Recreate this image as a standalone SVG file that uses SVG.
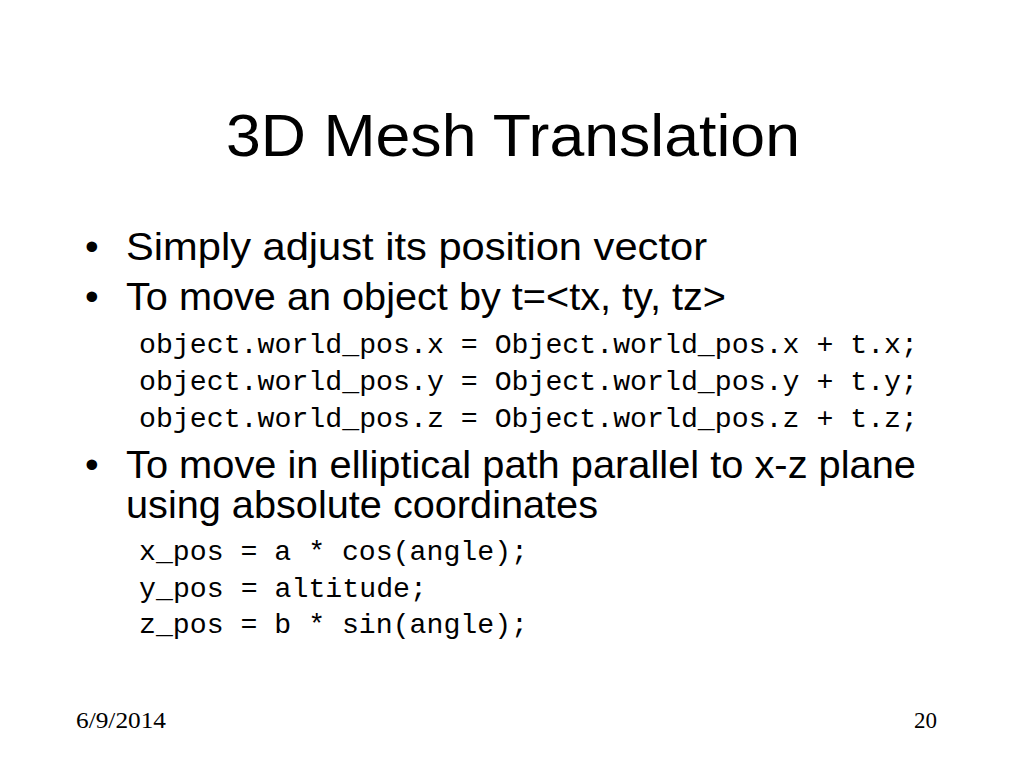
<svg xmlns="http://www.w3.org/2000/svg" width="1024" height="768" viewBox="0 0 1024 768">
<style>
.t{font-family:"Liberation Sans",Arial,sans-serif;fill:#000}
.b{font-family:"Liberation Sans",Arial,sans-serif;font-size:39px;fill:#000}
.c{font-family:"Liberation Mono","Courier New",monospace;font-size:28px;fill:#000}
.f{font-family:"Liberation Serif","Times New Roman",serif;font-size:23px;fill:#000}
</style>
<rect width="1024" height="768" fill="#fff"/>
<text class="t" x="226" y="156" font-size="60" textLength="574" lengthAdjust="spacingAndGlyphs">3D Mesh Translation</text>
<text class="b" x="85" y="260">•</text><text class="b" x="126" y="260" textLength="581" lengthAdjust="spacingAndGlyphs">Simply adjust its position vector</text>
<text class="b" x="85" y="310">•</text><text class="b" x="126" y="310" textLength="600" lengthAdjust="spacingAndGlyphs">To move an object by t=&lt;tx, ty, tz&gt;</text>
<text class="c" x="139" y="353" textLength="779" lengthAdjust="spacingAndGlyphs">object.world_pos.x = Object.world_pos.x + t.x;</text>
<text class="c" x="139" y="390" textLength="779" lengthAdjust="spacingAndGlyphs">object.world_pos.y = Object.world_pos.y + t.y;</text>
<text class="c" x="139" y="427" textLength="779" lengthAdjust="spacingAndGlyphs">object.world_pos.z = Object.world_pos.z + t.z;</text>
<text class="b" x="85" y="478">•</text><text class="b" x="126" y="478" textLength="790" lengthAdjust="spacingAndGlyphs">To move in elliptical path parallel to x-z plane</text>
<text class="b" x="126" y="518" textLength="472" lengthAdjust="spacingAndGlyphs">using absolute coordinates</text>
<text class="c" x="139" y="560" textLength="389" lengthAdjust="spacingAndGlyphs">x_pos = a * cos(angle);</text>
<text class="c" x="139" y="597" textLength="288" lengthAdjust="spacingAndGlyphs">y_pos = altitude;</text>
<text class="c" x="139" y="633" textLength="389" lengthAdjust="spacingAndGlyphs">z_pos = b * sin(angle);</text>
<text class="f" x="76" y="728" textLength="90" lengthAdjust="spacingAndGlyphs">6/9/2014</text>
<text class="f" x="937" y="728" text-anchor="end">20</text>
</svg>
